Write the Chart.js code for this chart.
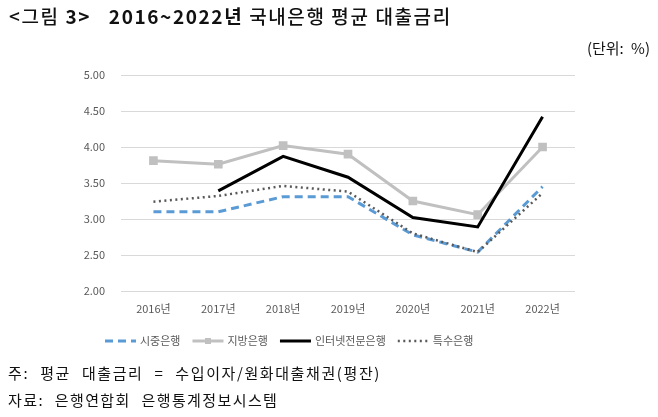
<!DOCTYPE html>
<html>
<head>
<meta charset="utf-8">
<script src="https://cdn.jsdelivr.net/npm/chart.js@4"></script>
<style>
  body { margin: 0; background: #fff; }
  #wrap { position: relative; width: 658px; height: 417px; overflow: hidden; font-family: "Noto Sans CJK KR", sans-serif; }
  #myChart { position: absolute; left: 0; top: 0; }
  .txt { position: absolute; white-space: nowrap; color: #111; }
  #title { left: 9px; top: 2px; font-size: 19px; font-weight: bold; letter-spacing: 1.6px; }
  #title .lead { font-weight: 500; }
  #unit { right: 8px; top: 37px; font-size: 15px; word-spacing: 4px; }
  #note1 { left: 8px; top: 362px; font-size: 15px; letter-spacing: 1.6px; word-spacing: 6px; }
  #note2 { left: 8px; top: 389px; font-size: 15px; letter-spacing: 1.4px; word-spacing: 6px; }
</style>
</head>
<body>
<div id="wrap">
  <canvas id="myChart" width="658" height="417"></canvas>
  <div class="txt" id="title"><span class="lead">&lt;그림</span> 3&gt;&nbsp;&nbsp;&nbsp;2016~2022년 <span class="lead">국내은행 평균 대출금리</span></div>
  <div class="txt" id="unit">(단위: %)</div>
  <div class="txt" id="note1">주: 평균 대출금리 = 수입이자/원화대출채권(평잔)</div>
  <div class="txt" id="note2">자료: 은행연합회 은행통계정보시스템</div>
</div>
<script>
const years = ['2016년', '2017년', '2018년', '2019년', '2020년', '2021년', '2022년'];
const commercial = [3.10, 3.10, 3.31, 3.31, 2.78, 2.54, 3.45];
const regional = [3.81, 3.76, 4.02, 3.90, 3.25, 3.06, 4.00];
const internet = [null, 3.39, 3.87, 3.58, 3.02, 2.89, 4.42];
const special = [3.24, 3.32, 3.46, 3.38, 2.80, 2.54, 3.36];
const seriesNames = ['시중은행', '지방은행', '인터넷전문은행', '특수은행'];
const yTicks = [2.00, 2.50, 3.00, 3.50, 4.00, 4.50, 5.00];

const labelFont = '11px "Noto Sans CJK KR", sans-serif';

// legend drawn by hand so the line samples keep dashes and the square marker
const legendPlugin = {
  id: 'lineLegend',
  afterDraw(chart) {
    const c = chart.ctx;
    let x = 105;
    const y = 341;
    c.save();
    c.font = labelFont;
    c.textBaseline = 'middle';
    chart.data.datasets.forEach(ds => {
      const len = 31;
      c.strokeStyle = ds.borderColor;
      c.lineWidth = ds.borderWidth;
      c.setLineDash(ds.borderDash || []);
      c.beginPath();
      c.moveTo(x, y);
      c.lineTo(x + len, y);
      c.stroke();
      c.setLineDash([]);
      if (ds.pointRadius > 0) {
        c.fillStyle = ds.pointBackgroundColor;
        c.fillRect(x + len / 2 - 3, y - 3, 6, 6);
      }
      x += len + 4;
      c.fillStyle = '#595959';
      c.fillText(ds.label, x, y);
      x += c.measureText(ds.label).width + 12;
    });
    c.restore();
  }
};

const ctx = document.getElementById('myChart').getContext('2d');
const myChart = new Chart(ctx, {
  type: 'line',
  data: {
    labels: years,
    datasets: [
      {
        label: seriesNames[0],
        data: commercial,
        borderColor: '#5b9bd5',
        borderWidth: 3,
        borderDash: [8, 5],
        pointRadius: 0,
        order: 2
      },
      {
        label: seriesNames[1],
        data: regional,
        borderColor: '#c0c0c0',
        borderWidth: 3,
        pointStyle: 'rect',
        pointRadius: 4,
        pointBackgroundColor: '#c0c0c0',
        pointBorderColor: '#c0c0c0',
        order: 3
      },
      {
        label: seriesNames[2],
        data: internet,
        borderColor: '#000000',
        borderWidth: 3,
        pointRadius: 0,
        order: 0
      },
      {
        label: seriesNames[3],
        data: special,
        borderColor: '#595959',
        borderWidth: 2.5,
        borderDash: [2, 3.5],
        pointRadius: 0,
        order: 1
      }
    ]
  },
  options: {
    responsive: false,
    animation: false,
    layout: { padding: { top: 75, right: 83, left: 0, bottom: 0 } },
    scales: {
      x: {
        offset: true,
        grid: { display: false },
        border: { display: false },
        ticks: { color: '#595959', font: { family: '"Noto Sans CJK KR", sans-serif', size: 11 }, padding: 3 },
        afterFit(scale) { scale.height = 126; }
      },
      y: {
        min: 2,
        max: 5,
        afterBuildTicks(scale) { scale.ticks = yTicks.map(v => ({ value: v })); },
        grid: { color: '#d9d9d9', drawTicks: false },
        border: { display: false },
        ticks: {
          color: '#595959',
          font: { family: '"Noto Sans CJK KR", sans-serif', size: 11 },
          padding: 16,
          callback: v => Number(v).toFixed(2)
        },
        afterFit(scale) { scale.width = 121; }
      }
    },
    plugins: {
      legend: { display: false },
      tooltip: { enabled: false }
    }
  },
  plugins: [legendPlugin]
});
</script>
</body>
</html>
